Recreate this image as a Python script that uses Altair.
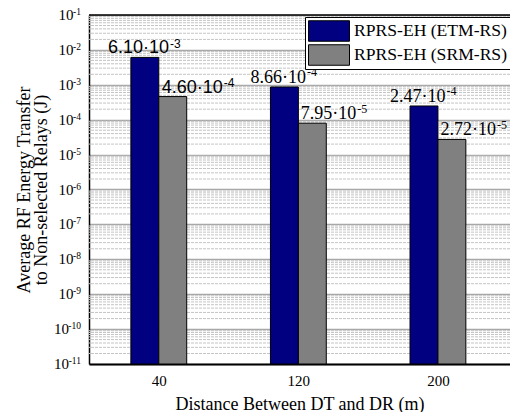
import math
import altair as alt
import pandas as pd

# ---- data ----
distances = [40, 120, 200]
series = ["RPRS-EH (ETM-RS)", "RPRS-EH (SRM-RS)"]
etm_values = [6.10e-3, 8.66e-4, 2.47e-4]
srm_values = [4.60e-4, 7.95e-5, 2.72e-5]
y_exponents = list(range(-11, 0))          # 10^-11 ... 10^-1
x_tick_values = [40, 120, 200]
colors = ["#000080", "#808080"]

PLOT_W, PLOT_H = 421, 349
X_DOMAIN = [0, 241.3]
PX_PER_UNIT = PLOT_W / (X_DOMAIN[1] - X_DOMAIN[0])
BAR_UNITS = 16
MANT_SIZE, EXP_SIZE = 18, 12

# approximate glyph advance widths (per 1000 em) for label layout
SANS_W = {"d": 556, ".": 278, "·": 278, "-": 333}
SERIF_W = {"d": 500, ".": 250, "·": 250, "-": 333}


def text_width(s, table, size):
    return sum(table["d"] if c.isdigit() else table[c] for c in s) * size / 1000.0


rows = []
for s_idx, (s, vals) in enumerate(zip(series, [etm_values, srm_values])):
    for d, v in zip(distances, vals):
        e = int(math.floor(math.log10(v)))
        mant = f"{v / 10 ** e:.2f}·10"
        exp = str(e)
        sans = d == distances[0]
        table = SANS_W if sans else SERIF_W
        mw = text_width(mant, table, MANT_SIZE)
        ew = text_width(exp, table, EXP_SIZE)
        if s_idx == 0:   # centred over the bar
            anchor = d - BAR_UNITS / 2
            joint_px = (mw + ew + 1) / 2 - ew - 1
        else:            # starting just right of the bar's left edge
            anchor = d
            joint_px = 4 + mw
        rows.append({"Distance": d, "Series": s, "Value": v, "Mant": mant,
                     "Exp": exp, "Sans": sans,
                     "Joint": anchor + joint_px / PX_PER_UNIT})
df = pd.DataFrame(rows)

minor_df = pd.DataFrame({"v": [k * 10.0 ** e for e in y_exponents[:-1] for k in range(2, 10)]})

ytick_df = pd.DataFrame({
    "value": [10.0 ** e for e in y_exponents],
    "exp": [str(e) for e in y_exponents],
    "ndig": [len(str(e)) for e in y_exponents],
})

yscale = alt.Scale(type="log", domain=[1e-11, 1e-1], nice=False)
xscale = alt.Scale(domain=X_DOMAIN, nice=False, zero=False)

yaxis = alt.Axis(
    values=[10.0 ** e for e in y_exponents], labels=False, grid=True,
    gridColor="#a8a8a8", gridWidth=1.5, ticks=False, domainColor="black",
    domainWidth=1.5,
    title=["Average RF Energy Transfer", "to Non-selected Relays (J)"],
    titleFont="Liberation Serif", titleFontSize=18, titleFontWeight="normal",
    titleColor="black", titleX=-56, titleY=174.5, titleLineHeight=17,
    titleAngle=270, titleBaseline="bottom", titleAlign="center",
)
xaxis = alt.Axis(
    values=x_tick_values, format="d", grid=False, ticks=False,
    domainColor="black", domainWidth=2, labelFont="Liberation Serif",
    labelFontSize=15, labelColor="black", labelPadding=9, labelFlush=False,
    title="Distance Between DT and DR (m)", titleFont="Liberation Serif",
    titleFontSize=18, titleFontWeight="normal", titleColor="black",
    titleY=45, titleBaseline="alphabetic",
)

legend = alt.Legend(
    title=None, orient="none", legendX=216, legendY=2,
    symbolType="M-1,-0.5H1V0.5H-1Z", symbolSize=1681,
    symbolStrokeColor="black", symbolStrokeWidth=1, symbolOpacity=1,
    labelFont="Liberation Serif", labelFontSize=17.6, labelColor="black",
    labelOffset=4, rowPadding=2, padding=3, fillColor="white",
    strokeColor="black", clipHeight=22,
)

minor = alt.Chart(minor_df).mark_rule(
    color="#c4c4c4", strokeDash=[3, 1], strokeWidth=1
).encode(y=alt.Y("v:Q", scale=yscale, axis=yaxis))

# y tick labels: "10" plus a raised exponent
ybase = alt.Chart(ytick_df)
ten_short = ybase.transform_filter("datum.ndig == 2").mark_text(
    font="Liberation Serif", fontSize=15, color="black", align="right",
    baseline="alphabetic", dx=-15.5, dy=5,
).encode(x=alt.value(0), y=alt.Y("value:Q", scale=yscale, axis=yaxis), text=alt.value("10"))
ten_long = ybase.transform_filter("datum.ndig == 3").mark_text(
    font="Liberation Serif", fontSize=15, color="black", align="right",
    baseline="alphabetic", dx=-20, dy=5,
).encode(x=alt.value(0), y=alt.Y("value:Q", scale=yscale, axis=yaxis), text=alt.value("10"))
exps = ybase.mark_text(
    font="Liberation Serif", fontSize=9.5, color="black", align="right",
    baseline="alphabetic", dx=-8, dy=0,
).encode(x=alt.value(0), y=alt.Y("value:Q", scale=yscale, axis=yaxis), text="exp:N")

base = alt.Chart(df).transform_calculate(
    lo=f"datum.Distance + (datum.Series == '{series[0]}' ? -{BAR_UNITS} : 0)",
    hi=f"datum.Distance + (datum.Series == '{series[0]}' ? 0 : {BAR_UNITS})",
)

bars = base.mark_bar(stroke="black", strokeWidth=1).encode(
    x=alt.X("lo:Q", scale=xscale, axis=xaxis),
    x2="hi:Q",
    y=alt.Y("Value:Q", scale=yscale, axis=yaxis),
    y2=alt.datum(1e-11),
    color=alt.Color("Series:N", scale=alt.Scale(domain=series, range=colors), legend=legend),
)


def label_layers(sans):
    font = "Liberation Sans" if sans else "Liberation Serif"
    sub = base.transform_filter(f"datum.Sans == {'true' if sans else 'false'}")
    mant = sub.mark_text(
        font=font, fontSize=MANT_SIZE, color="black", align="right",
        baseline="alphabetic", dy=-4,
    ).encode(
        x=alt.X("Joint:Q", scale=xscale, axis=xaxis),
        y=alt.Y("Value:Q", scale=yscale, axis=yaxis),
        text="Mant:N",
    )
    exp = sub.mark_text(
        font=font, fontSize=EXP_SIZE, color="black", align="left",
        baseline="alphabetic", dx=1, dy=-9.5 if sans else -10.5,
    ).encode(
        x=alt.X("Joint:Q", scale=xscale, axis=xaxis),
        y=alt.Y("Value:Q", scale=yscale, axis=yaxis),
        text="Exp:N",
    )
    return [mant, exp]


texts = label_layers(True) + label_layers(False)

top_border = alt.Chart(pd.DataFrame({"a": [0]})).mark_rule(
    color="black", strokeWidth=1.5
).encode(y=alt.value(0))

chart = alt.layer(minor, bars, *texts, ten_short, ten_long, exps, top_border).properties(
    width=PLOT_W, height=PLOT_H,
    autosize=alt.AutoSizeParams(type="none"),
    padding={"left": 81, "top": 7, "right": 0, "bottom": 48},
).configure_view(stroke=None)

chart.save("out.html", embed_options={"renderer": "svg", "actions": False})
